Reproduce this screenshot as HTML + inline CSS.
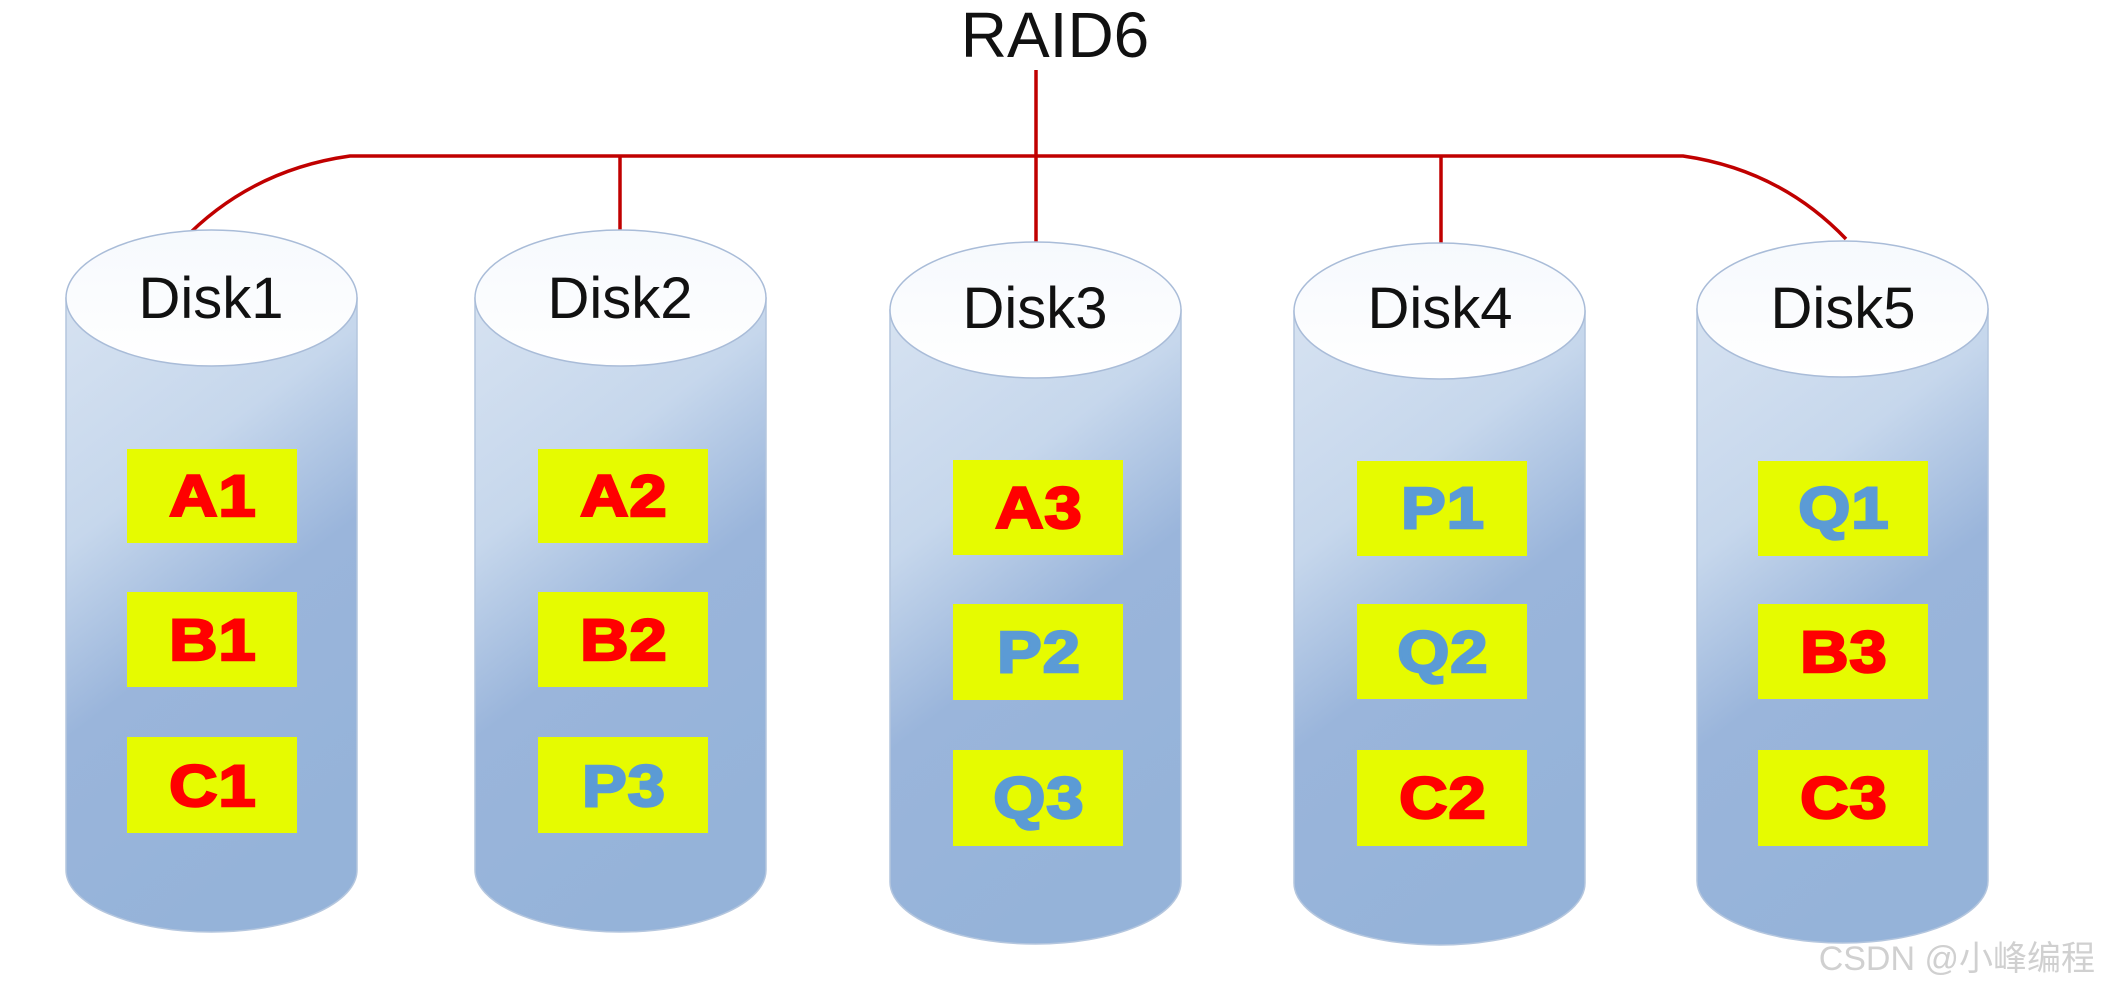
<!DOCTYPE html>
<html><head><meta charset="utf-8"><style>html,body{margin:0;padding:0;background:#fff}svg{display:block}</style></head>
<body>
<svg width="2101" height="988" viewBox="0 0 2101 988" xmlns="http://www.w3.org/2000/svg">
<defs>
<linearGradient id="body" x1="0" y1="0" x2="0.35" y2="1">
<stop offset="0" stop-color="#d6e2f1"/><stop offset="0.35" stop-color="#c6d7ec"/><stop offset="0.62" stop-color="#9ab5db"/><stop offset="1" stop-color="#95b3d9"/>
</linearGradient>
<linearGradient id="top" x1="0" y1="0" x2="0" y2="1">
<stop offset="0" stop-color="#f6f9fd"/><stop offset="1" stop-color="#ffffff"/>
</linearGradient>
<g id="cyl">
<path d="M0,68 L0,640 A145.5,62 0 0 0 291,640 L291,68 Z" fill="url(#body)" stroke="#b4c6de" stroke-width="1.5"/>
<ellipse cx="145.5" cy="68" rx="145.5" ry="68" fill="url(#top)" stroke="#a9bcd8" stroke-width="1.5"/>
</g>
</defs>
<g font-family="'Liberation Sans','DejaVu Sans',sans-serif">
<text x="1055" y="57" font-size="64" text-anchor="middle" fill="#111">RAID6</text>
<g stroke="#c00000" stroke-width="3.5" fill="none">
<line x1="1036" y1="70" x2="1036" y2="244"/>
<path d="M182,241 Q250,170 350,156 L1683,156 Q1780,170 1846,239"/>
<line x1="620" y1="156" x2="620" y2="230"/>
<line x1="1441" y1="156" x2="1441" y2="243"/>
</g>
<use href="#cyl" x="66" y="230"/>
<use href="#cyl" x="475" y="230"/>
<use href="#cyl" x="890" y="242"/>
<use href="#cyl" x="1294" y="243"/>
<use href="#cyl" x="1697" y="241"/>
<g font-size="58" text-anchor="middle" fill="#111">
<text x="211" y="318">Disk1</text>
<text x="620" y="318">Disk2</text>
<text x="1035" y="328">Disk3</text>
<text x="1440" y="328">Disk4</text>
<text x="1843" y="328">Disk5</text>
</g>
<g fill="#e6fb00">
<rect x="127" y="449" width="170" height="94"/><rect x="127" y="592" width="170" height="95"/><rect x="127" y="737" width="170" height="96"/>
<rect x="538" y="449" width="170" height="94"/><rect x="538" y="592" width="170" height="95"/><rect x="538" y="737" width="170" height="96"/>
<rect x="953" y="460" width="170" height="95"/><rect x="953" y="604" width="170" height="96"/><rect x="953" y="750" width="170" height="96"/>
<rect x="1357" y="461" width="170" height="95"/><rect x="1357" y="604" width="170" height="95"/><rect x="1357" y="750" width="170" height="96"/>
<rect x="1758" y="461" width="170" height="95"/><rect x="1758" y="604" width="170" height="95"/><rect x="1758" y="750" width="170" height="96"/>
</g>
<g font-size="58" font-weight="bold" text-anchor="middle" stroke-width="2.5" letter-spacing="1">
<text transform="translate(213,516) scale(1.15,1)" fill="#ff0000" stroke="#ff0000">A1</text>
<text transform="translate(213,660) scale(1.15,1)" fill="#ff0000" stroke="#ff0000">B1</text>
<text transform="translate(213,806) scale(1.15,1)" fill="#ff0000" stroke="#ff0000">C1</text>
<text transform="translate(624,516) scale(1.15,1)" fill="#ff0000" stroke="#ff0000">A2</text>
<text transform="translate(624,660) scale(1.15,1)" fill="#ff0000" stroke="#ff0000">B2</text>
<text transform="translate(624,806) scale(1.15,1)" fill="#5b9bd5" stroke="#5b9bd5">P3</text>
<text transform="translate(1039,528) scale(1.15,1)" fill="#ff0000" stroke="#ff0000">A3</text>
<text transform="translate(1039,672) scale(1.15,1)" fill="#5b9bd5" stroke="#5b9bd5">P2</text>
<text transform="translate(1039,818) scale(1.15,1)" fill="#5b9bd5" stroke="#5b9bd5">Q3</text>
<text transform="translate(1443,528) scale(1.15,1)" fill="#5b9bd5" stroke="#5b9bd5">P1</text>
<text transform="translate(1443,672) scale(1.15,1)" fill="#5b9bd5" stroke="#5b9bd5">Q2</text>
<text transform="translate(1443,818) scale(1.15,1)" fill="#ff0000" stroke="#ff0000">C2</text>
<text transform="translate(1844,528) scale(1.15,1)" fill="#5b9bd5" stroke="#5b9bd5">Q1</text>
<text transform="translate(1844,672) scale(1.15,1)" fill="#ff0000" stroke="#ff0000">B3</text>
<text transform="translate(1844,818) scale(1.15,1)" fill="#ff0000" stroke="#ff0000">C3</text>
</g>
<text x="2095" y="970" font-size="34" text-anchor="end" fill="#d0d0d0" font-family="'Liberation Sans','Noto Sans CJK SC',sans-serif">CSDN @小峰编程</text>
</g>
</svg>
</body></html>
